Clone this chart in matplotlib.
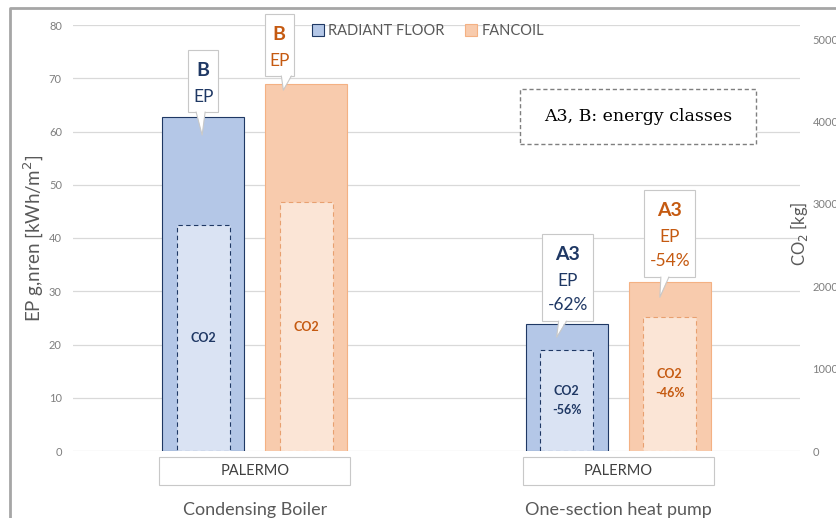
import matplotlib.pyplot as plt
from matplotlib.patches import Rectangle, Polygon
from matplotlib.lines import Line2D
import numpy as np

plt.rcParams['font.family'] = ['Lato', 'DejaVu Sans']

# data
groups = ['Condensing Boiler', 'One-section heat pump']
city = ['PALERMO', 'PALERMO']
series = ['RADIANT FLOOR', 'FANCOIL']
ep_rf = [62.7, 23.8]       # EP g,nren [kWh/m2]
ep_fc = [68.9, 31.7]
co2_rf = [2740, 1220]      # CO2 [kg]
co2_fc = [3020, 1630]
cls_rf = ['B', 'A3']
cls_fc = ['B', 'A3']
ep_pct_rf = ['', '-62%']
ep_pct_fc = ['', '-54%']
co2_pct_rf = ['', '-56%']
co2_pct_fc = ['', '-46%']

navy = '#1f3864'
brown = '#c55a11'
rf_fill, rf_inner = '#b4c7e7', '#dae3f3'
fc_fill, fc_inner = '#f8cbad', '#fbe5d6'
grey = '#7f7f7f'

fig = plt.figure(figsize=(8.36, 5.18), dpi=100)
ax = fig.add_axes([73/836, 1 - 451/518, 727/836, 426/518])
ax2 = ax.twinx()

x = np.array([0.5, 1.5])
w = 0.226
off = 0.142
wi = 0.146

ax.bar(x - off, ep_rf, w, color=rf_fill, edgecolor=navy, lw=0.8, zorder=2)
ax.bar(x + off, ep_fc, w, color=fc_fill, edgecolor='#f4b183', lw=0.8, zorder=2)
ax2.bar(x - off, co2_rf, wi, color=rf_inner, edgecolor=navy, lw=0.8, ls=(0, (4, 3)), zorder=3)
ax2.bar(x + off, co2_fc, wi, color=fc_inner, edgecolor='#e8a070', lw=0.8, ls=(0, (4, 3)), zorder=3)

ax.set_xlim(0, 2)
ax.set_ylim(0, 80)
ax2.set_ylim(0, 5170)
ax.set_yticks(np.arange(0, 81, 10))
ax2.set_yticks(np.arange(0, 5001, 1000))
ax.yaxis.grid(True, color='#d9d9d9', lw=0.9, zorder=0)
ax.set_axisbelow(True)
ax.set_xticks([])
for a in (ax, ax2):
    for s in a.spines.values():
        s.set_visible(False)
ax.tick_params(axis='y', length=0, pad=8, labelsize=8, labelcolor=grey)
ax2.tick_params(axis='y', length=0, pad=9, labelsize=8, labelcolor=grey)
for lab in ax2.get_yticklabels():
    lab.set_horizontalalignment('left')

ax.set_ylabel('EP g,nren [kWh/m$^2$]', fontsize=13.5, color='#595959', labelpad=2)
ax2.text(0.999, 0.51, 'CO$_2$ [kg]', transform=ax.transAxes, rotation=90,
         ha='center', va='center', fontsize=12, color='#595959')

# CO2 labels inside the inner bars
for i in range(2):
    for xc, val, col, pct in [(x[i] - off, co2_rf[i], navy, co2_pct_rf[i]),
                              (x[i] + off, co2_fc[i], brown, co2_pct_fc[i])]:
        txt = 'CO2' if not pct else 'CO2\n' + pct
        ax2.text(xc, val * 0.5, txt, ha='center', va='center',
                 fontsize=9, fontweight='bold', color=col, zorder=5, linespacing=1.7)

# callouts above EP bars
ppx = 363.5   # px per x unit
ppy = 5.325   # px per y unit
def callout(xc, top, cls, pct, col, dx_px, width_px, gap_px, tip_dx, depth_px):
    h_px = 87 if pct else 62
    bx = xc + dx_px / ppx
    bottom = top + gap_px / ppy
    half = width_px / 2 / ppx
    ax.add_patch(Rectangle((bx - half, bottom), 2 * half, h_px / ppy, fc='white',
                           ec='#c8c8c8', lw=0.8, zorder=6, clip_on=False))
    tip = (bx + tip_dx / ppx, top - depth_px / ppy)
    base = [bx - 7 / ppx, bx + 2 / ppx] if tip_dx > -5 else [bx - 9 / ppx, bx - 1 / ppx]
    if tip_dx > 2:
        base = [bx + 2 / ppx, bx + 12 / ppx]
    ax.add_patch(Polygon([(base[0], bottom + 0.3), (base[1], bottom + 0.3), tip],
                         closed=True, fc='white', ec='none', zorder=7, clip_on=False))
    ax.plot([base[0], tip[0], base[1]], [bottom, tip[1], bottom],
            color='#c8c8c8', lw=0.8, zorder=7, clip_on=False)
    y0 = bottom + h_px / ppy
    ax.text(bx, y0 - 20 / ppy, cls, ha='center', va='center', fontsize=14,
            fontweight='bold', color=col, zorder=8)
    ax.text(bx, y0 - 47 / ppy, 'EP', ha='center', va='center', fontsize=12.5,
            color=col, zorder=8)
    if pct:
        ax.text(bx, y0 - 71 / ppy, pct, ha='center', va='center', fontsize=12.5,
                color=col, zorder=8)

callout(x[0] - off, ep_rf[0], cls_rf[0], ep_pct_rf[0], navy, 0, 30, 5, -1, 18)
callout(x[0] + off, ep_fc[0], cls_fc[0], ep_pct_fc[0], brown, -27, 29, 8, 4, 6)
callout(x[1] - off, ep_rf[1], cls_rf[1], ep_pct_rf[1], navy, 1, 51, 3, -11, 13)
callout(x[1] + off, ep_fc[1], cls_fc[1], ep_pct_fc[1], brown, 0, 51, 5, -10, 15)

# category boxes and labels below the axis
for i in range(2):
    ax.add_patch(Rectangle((x[i] - 0.263, -6.4), 0.526, 5.2,
                           fc='white', ec='#c8c8c8', lw=0.8, clip_on=False))
    ax.text(x[i], -3.8, city[i], ha='center', va='center', fontsize=10.5,
            color='#404040')
    ax.text(x[i], -11.0, groups[i], ha='center', va='center', fontsize=13,
            color='#595959', clip_on=False)

# note box
ax.add_patch(Rectangle((0.615, 0.7207), 0.3246, 0.129, transform=ax.transAxes,
                       fc='white', ec='#7f7f7f', lw=1.0, ls=(0, (3, 2)), zorder=4))
ax.text(0.777, 0.786, 'A3, B: energy classes', transform=ax.transAxes, ha='center',
        va='center', fontsize=12.5, family='DejaVu Serif', zorder=5)

# legend
handles = [Rectangle((0, 0), 1, 1, fc=rf_fill, ec=navy, lw=0.8),
           Rectangle((0, 0), 1, 1, fc=fc_fill, ec='#f4b183', lw=0.8)]
leg = fig.legend(handles, series, loc='center', bbox_to_anchor=(0.512, 1 - 31 / 518),
                 ncol=2, frameon=False, fontsize=10.5, handlelength=0.8, handleheight=0.8,
                 handletextpad=0.3, columnspacing=1.4)
for t in leg.get_texts():
    t.set_color('#595959')

# outer frame of the original chart
fig.add_artist(Line2D([10 / 836, 10 / 836, 1], [0, 1 - 8 / 518, 1 - 8 / 518],
                      color='#a6a6a6', lw=2))

fig.savefig('out.png', dpi=100)
